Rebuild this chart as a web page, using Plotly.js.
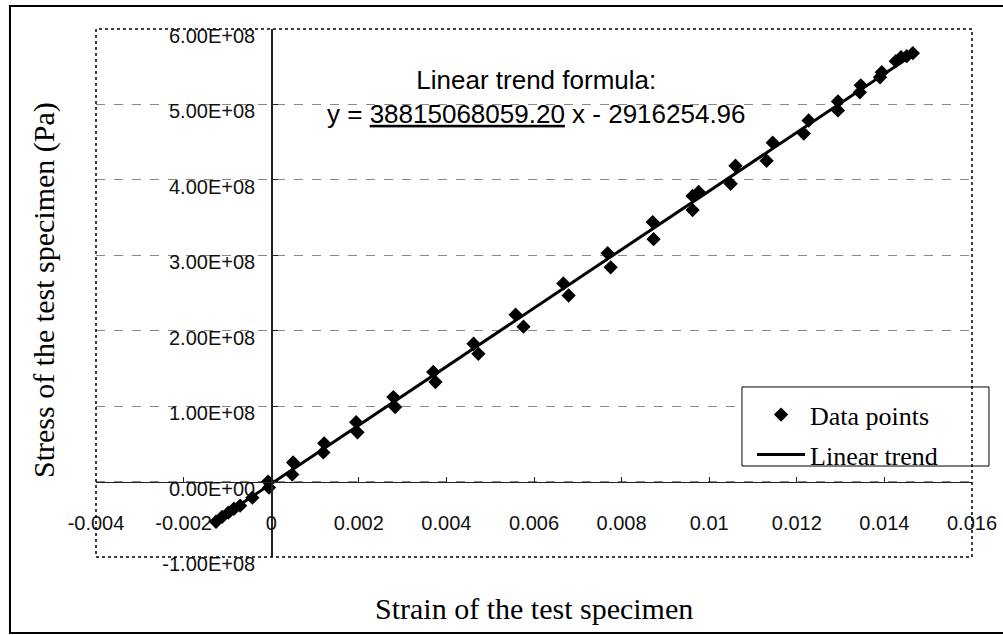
<!DOCTYPE html>
<html><head><meta charset="utf-8">
<script src="https://cdn.plot.ly/plotly-3.0.1.min.js"></script>
<style>html,body{margin:0;padding:0;background:#fff;} #chart{width:1003px;height:635px;}</style>
</head><body><div id="chart"></div>
<script>
// Measured data points (strain, stress in Pa)
const strain = [-0.00126, -0.00112, -0.00098, -0.00085, -0.00071, -0.00043, -0.00007, -0.00005,
  0.00050, 0.00048, 0.00121, 0.00119, 0.00194, 0.00197, 0.00279, 0.00283, 0.00370, 0.00375,
  0.00462, 0.00473, 0.00558, 0.00576, 0.00667, 0.00679, 0.00768, 0.00775, 0.00871, 0.00873,
  0.00962, 0.00976, 0.00962, 0.01060, 0.01049, 0.01145, 0.01131, 0.01227, 0.01216, 0.01294,
  0.01294, 0.01346, 0.01344, 0.01394, 0.01390, 0.01426, 0.01438, 0.01451, 0.01465];
const stress = [-5.33e7, -4.67e7, -4.13e7, -3.60e7, -3.20e7, -2.13e7, 0, -8.0e6,
  2.53e7, 9.3e6, 5.07e7, 3.87e7, 7.87e7, 6.53e7, 1.12e8, 9.87e7, 1.453e8, 1.32e8,
  1.827e8, 1.693e8, 2.213e8, 2.053e8, 2.627e8, 2.467e8, 3.027e8, 2.84e8, 3.44e8, 3.213e8,
  3.787e8, 3.84e8, 3.60e8, 4.187e8, 3.947e8, 4.493e8, 4.253e8, 4.787e8, 4.613e8, 5.04e8,
  4.92e8, 5.253e8, 5.16e8, 5.427e8, 5.36e8, 5.573e8, 5.627e8, 5.64e8, 5.68e8];

// Linear trend formula
const trendSlope = 38815068059.20;
const trendIntercept = -2916254.96;

// Axis ticks
const xTickVals = [-0.004, -0.002, 0, 0.002, 0.004, 0.006, 0.008, 0.01, 0.012, 0.014, 0.016];
const xTickText = ['-0.004', '-0.002', '0', '0.002', '0.004', '0.006', '0.008', '0.01', '0.012', '0.014', '0.016'];
const yTickVals = [-1e8, 0, 1e8, 2e8, 3e8, 4e8, 5e8, 6e8];
const yTickText = ['-1.00E+08', '0.00E+00', '1.00E+08', '2.00E+08', '3.00E+08', '4.00E+08', '5.00E+08', '6.00E+08'];

const xMin = Math.min(...strain), xMax = Math.max(...strain);
const trendX = [xMin, xMax];
const trendY = trendX.map(v => trendSlope * v + trendIntercept);

const sans = 'Liberation Sans, Arial, sans-serif';
const serif = 'Liberation Serif, Times New Roman, serif';

const traces = [
  {x: strain, y: stress, type: 'scatter', mode: 'markers', name: 'Data points', legendgroup: 'a',
   marker: {symbol: 'diamond', size: 11, color: '#000'}},
  {x: trendX, y: trendY, type: 'scatter', mode: 'lines', name: 'Linear trend', legendgroup: 'b',
   line: {color: '#000', width: 3}}
];

const fmt = n => n.toFixed(2);
const formulaText = 'Linear trend formula:<br>y = <u>' + fmt(trendSlope) + '</u> x - ' + fmt(Math.abs(trendIntercept));

const layout = {
  width: 1003, height: 635,
  margin: {l: 96, r: 31, t: 29, b: 78},
  paper_bgcolor: '#fff', plot_bgcolor: '#fff',
  showlegend: true,
  xaxis: {range: [-0.004, 0.016], anchor: 'free', position: 1/7,
    showline: true, linecolor: '#222', linewidth: 1.5,
    ticks: 'inside', ticklen: 5, tickcolor: '#222',
    tickvals: xTickVals, ticktext: xTickText,
    tickfont: {family: sans, size: 20, color: '#111'},
    showgrid: false, zeroline: false, ticklabelstandoff: 23},
  yaxis: {range: [-1e8, 6e8], anchor: 'free', position: 0.2,
    showline: true, linecolor: '#222', linewidth: 1.5,
    ticks: 'inside', ticklen: 5, tickcolor: '#222',
    tickvals: yTickVals, ticktext: yTickText,
    tickfont: {family: sans, size: 20, color: '#111'},
    showgrid: true, gridcolor: '#888', griddash: 'dash', gridwidth: 1,
    zeroline: false, ticklabelstandoff: 12, ticklabelshift: 7},
  legend: {x: 0.7489, y: 0.314, xanchor: 'left', yanchor: 'top',
    bgcolor: 'rgba(0,0,0,0)', borderwidth: 0, tracegroupgap: 3,
    font: {family: serif, size: 26, color: '#000'}, itemwidth: 48},
  shapes: [
    {type: 'rect', xref: 'paper', yref: 'paper', x0: 0.7374, x1: 1.0194, y0: 0.1723, y1: 0.322,
     fillcolor: '#fff', line: {color: '#000', width: 1}, layer: 'above'},
    {type: 'rect', xref: 'paper', yref: 'paper', x0: 0, x1: 1, y0: 0, y1: 1,
     line: {color: '#000', width: 1.5, dash: 'dot'}, layer: 'above'},
    {type: 'rect', xref: 'paper', yref: 'paper', x0: -0.0982, x1: 1.2, y0: -0.1439, y1: 1.0436,
     line: {color: '#000', width: 2}, layer: 'above'}
  ],
  annotations: [
    {xref: 'paper', yref: 'paper', x: 0.503, y: 0.871, xanchor: 'center', yanchor: 'middle',
     text: formulaText, showarrow: false, align: 'center',
     font: {family: sans, size: 26, color: '#000'}},
    {xref: 'paper', yref: 'paper', x: 0.5, y: -0.0966, xanchor: 'center', yanchor: 'middle',
     text: 'Strain of the test specimen', showarrow: false,
     font: {family: serif, size: 30, color: '#000'}},
    {xref: 'paper', yref: 'paper', x: -0.0594, y: 0.5057, xanchor: 'center', yanchor: 'middle',
     text: 'Stress of the test specimen (Pa)', showarrow: false, textangle: -90,
     font: {family: serif, size: 30, color: '#000'}}
  ]
};

Plotly.newPlot('chart', traces, layout, {displayModeBar: false, staticPlot: true});
</script></body></html>
